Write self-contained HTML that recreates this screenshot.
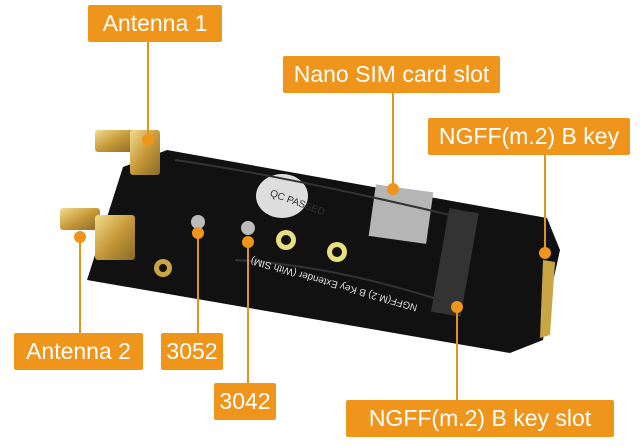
<!DOCTYPE html>
<html><head><style>
body{margin:0;background:#fff;width:640px;height:447px;overflow:hidden;position:relative;font-family:"Liberation Sans",sans-serif}
.l{position:absolute;background:#ef951c;color:#fff;font-size:23px;line-height:37px;height:37px;text-align:center;border-radius:2px}
svg{position:absolute;left:0;top:0}
</style></head><body>
<svg width="640" height="447">
<defs><linearGradient id="g" x1="0" y1="0" x2="1" y2="1"><stop offset="0" stop-color="#f3dc8e"/><stop offset="0.5" stop-color="#c79a3a"/><stop offset="1" stop-color="#8a6a25"/></linearGradient></defs>
<polygon points="167,150 547,218 560,250 549,300 543,340 510,353 87,280 123,167" fill="#111"/>
<polygon points="543,260 555,262 550,335 540,338" fill="#c9a544"/>
<circle cx="380" cy="204" r="1" fill="#fff"/>
<ellipse cx="282" cy="196" rx="26" ry="22" fill="#ddd"/>
<text x="270" y="200" font-size="10" fill="#333" transform="rotate(20 282 196)">QC PASSED</text>
<rect x="372" y="188" width="58" height="52" fill="#b5b5b5" transform="rotate(8 400 214)"/>
<rect x="440" y="210" width="30" height="105" fill="#333" transform="rotate(10 455 262)"/>
<circle cx="286" cy="240" r="10" fill="#e8e080"/><circle cx="286" cy="240" r="5" fill="#111"/>
<circle cx="337" cy="252" r="10" fill="#e8e080"/><circle cx="337" cy="252" r="5" fill="#111"/>
<circle cx="163" cy="268" r="9" fill="#c9a544"/><circle cx="163" cy="268" r="4" fill="#111"/>
<path d="M235 260 Q330 265 440 300" stroke="#333" stroke-width="2" fill="none"/>
<path d="M175 160 Q280 175 450 215" stroke="#333" stroke-width="2" fill="none"/>
<text x="240" y="290" font-size="10" fill="#ddd" transform="rotate(196 330 285)">NGFF(M.2) B Key Extender (With SIM)</text>
<!-- SMA connectors -->
<rect x="95" y="130" width="40" height="22" fill="url(#g)" rx="3"/>
<rect x="130" y="130" width="30" height="45" fill="url(#g)" rx="3"/>
<rect x="60" y="208" width="40" height="22" fill="url(#g)" rx="3"/>
<rect x="95" y="215" width="40" height="45" fill="url(#g)" rx="3"/>
<circle cx="198" cy="222" r="7" fill="#bbb"/><circle cx="248" cy="228" r="7" fill="#bbb"/>
<g stroke="#e0951c" stroke-width="2">
<line x1="148" y1="42" x2="148" y2="140"/><line x1="393" y1="93" x2="393" y2="189"/>
<line x1="545" y1="155" x2="545" y2="253"/><line x1="80" y1="237" x2="80" y2="333"/>
<line x1="198" y1="233" x2="198" y2="333"/><line x1="248" y1="242" x2="248" y2="383"/>
<line x1="457" y1="307" x2="457" y2="400"/></g>
<g fill="#ef951c"><circle cx="148" cy="140" r="6"/><circle cx="393" cy="189" r="6"/><circle cx="545" cy="253" r="6"/><circle cx="80" cy="237" r="6"/><circle cx="198" cy="233" r="6"/><circle cx="248" cy="242" r="6"/><circle cx="457" cy="307" r="6"/></g>
</svg>
<div class="l" style="left:88px;top:5px;width:134px">Antenna 1</div>
<div class="l" style="left:283px;top:56px;width:217px">Nano SIM card slot</div>
<div class="l" style="left:428px;top:118px;width:202px">NGFF(m.2) B key</div>
<div class="l" style="left:14px;top:333px;width:129px">Antenna 2</div>
<div class="l" style="left:161px;top:333px;width:62px">3052</div>
<div class="l" style="left:214px;top:383px;width:62px">3042</div>
<div class="l" style="left:346px;top:400px;width:268px">NGFF(m.2) B key slot</div>
</body></html>
